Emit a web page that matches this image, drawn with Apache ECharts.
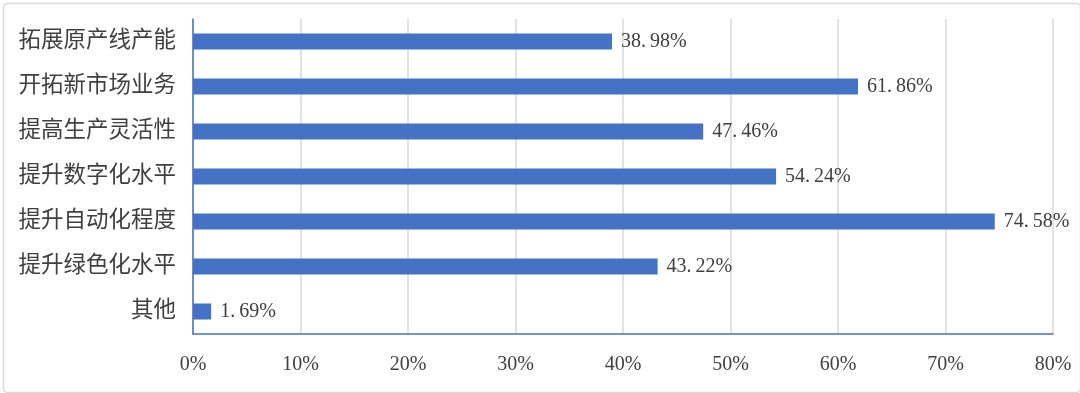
<!DOCTYPE html>
<html>
<head>
<meta charset="utf-8">
<script src="https://cdn.jsdelivr.net/npm/echarts@6/dist/echarts.min.js"></script>
<style>html,body{margin:0;padding:0;background:#fff;}#c{width:1080px;height:393px;}</style>
</head>
<body>
<div id="c"></div>
<script>
const categories = ['拓展原产线产能','开拓新市场业务','提高生产灵活性','提升数字化水平','提升自动化程度','提升绿色化水平','其他'];
const values = [38.98, 61.86, 47.46, 54.24, 74.58, 43.22, 1.69];
const xTicks = [0, 10, 20, 30, 40, 50, 60, 70, 80];

const FONT = '"Liberation Serif", "Noto Sans CJK SC", serif';
const chart = echarts.init(document.getElementById('c'));
chart.setOption({
  animation: false,
  backgroundColor: '#fff',
  graphic: [{
    type: 'rect', left: 1, top: 1, silent: true,
    shape: { width: 1077, height: 389, r: 4 },
    style: { fill: 'none', stroke: '#d9d9d9', lineWidth: 1.5 }
  }],
  grid: { left: 193, right: 27, top: 19, bottom: 59, containLabel: false },
  xAxis: {
    type: 'value', min: xTicks[0], max: xTicks[xTicks.length - 1], interval: 10,
    axisLine: { show: true, lineStyle: { color: '#4472c4', width: 1.5 } },
    axisTick: { show: false },
    splitLine: { show: true, lineStyle: { color: '#d9d9d9', width: 1.5 } },
    axisLabel: { margin: 21, color: '#404040', fontSize: 20, fontFamily: FONT, formatter: v => v + '%' }
  },
  yAxis: {
    type: 'category', data: categories, inverse: true,
    axisLine: { show: true, lineStyle: { color: '#4472c4', width: 1.5 } },
    axisTick: { show: false },
    axisLabel: { margin: 17, color: '#404040', fontSize: 22.5, fontFamily: FONT }
  },
  series: [{
    type: 'bar', data: values, barWidth: 16,
    itemStyle: { color: '#4472c4' },
    label: { show: true, position: 'right', distance: 9, color: '#404040', fontSize: 20, fontFamily: FONT,
      formatter: p => p.value.toFixed(2).replace('.', '.\u2009') + '%' }
  }]
});
</script>
</body>
</html>
